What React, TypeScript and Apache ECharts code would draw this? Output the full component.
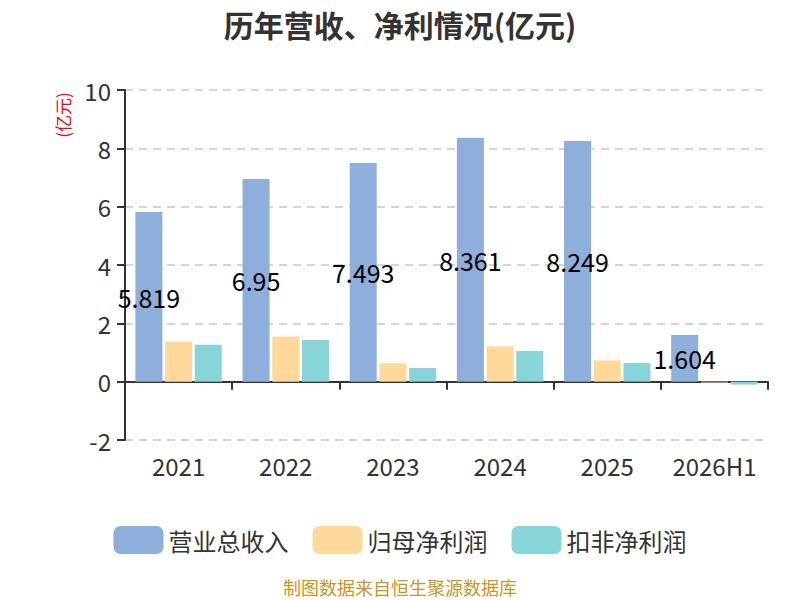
import React, { useEffect, useRef } from "react";
import * as echarts from "echarts";

const categories = ["2021", "2022", "2023", "2024", "2025", "2026H1"];
const revenue = [5.819, 6.95, 7.493, 8.361, 8.249, 1.604];
const netProfit = [1.38, 1.55, 0.63, 1.21, 0.73, -0.03];
const deductedProfit = [1.27, 1.43, 0.47, 1.05, 0.64, -0.1];
const seriesNames = ["营业总收入", "归母净利润", "扣非净利润"];

const FONT = '"Noto Sans CJK SC", "Noto Sans", sans-serif';

export default function App() {
  const ref = useRef<HTMLDivElement>(null);
  useEffect(() => {
    document.body.style.margin = "0";
    if (!ref.current) return;
    const chart = echarts.init(ref.current, null, { renderer: "svg" });
    chart.setOption({
      animation: false,
      textStyle: { fontFamily: FONT },
      title: {
        text: "历年营收、净利情况(亿元)",
        left: "center",
        top: 4,
        textStyle: { fontSize: 30, fontWeight: "bold", color: "#333", fontFamily: FONT },
      },
      graphic: [
        {
          type: "text",
          x: 62,
          y: 115,
          rotation: Math.PI / 2,
          style: {
            text: "(亿元)",
            fill: "#ff0000",
            fontSize: 17,
            fontFamily: FONT,
            align: "center",
            verticalAlign: "middle",
          },
        },
        {
          type: "text",
          x: 400,
          y: 587,
          style: {
            text: "制图数据来自恒生聚源数据库",
            fill: "#c9952b",
            fontSize: 18,
            fontFamily: FONT,
            align: "center",
            verticalAlign: "middle",
          },
        },
      ],
      legend: {
        top: 521,
        left: "center",
        itemWidth: 50,
        itemHeight: 28,
        itemGap: 24,
        icon: "roundRect",
        textStyle: { fontSize: 24, color: "#333", fontFamily: FONT },
        data: seriesNames,
      },
      grid: { left: 125, right: 32, top: 90, bottom: 160 },
      xAxis: {
        type: "category",
        data: categories,
        axisLine: { onZero: true, lineStyle: { color: "#333", width: 2 } },
        axisTick: { show: true, interval: 0, length: 8, lineStyle: { color: "#333", width: 2 } },
        axisLabel: { interval: 0, margin: 13, fontSize: 24, color: "#333", fontFamily: FONT },
      },
      yAxis: {
        type: "value",
        min: -2,
        max: 10,
        interval: 2,
        axisLine: { show: true, lineStyle: { color: "#333", width: 2 } },
        axisTick: { show: true, length: 8, lineStyle: { color: "#333", width: 2 } },
        axisLabel: { fontSize: 24, color: "#333", margin: 14, fontFamily: FONT },
        splitLine: { lineStyle: { type: [8, 6], color: "#c8c8c8", width: 1.5 } },
      },
      series: [
        {
          name: seriesNames[0],
          type: "bar",
          data: revenue,
          barWidth: 27,
          barGap: "10%",
          itemStyle: { color: "#8eaedb" },
          label: {
            show: true,
            position: "inside",
            color: "#000",
            fontSize: 25,
            fontFamily: FONT,
          },
        },
        {
          name: seriesNames[1],
          type: "bar",
          data: netProfit,
          barWidth: 27,
          barGap: "10%",
          itemStyle: { color: "#fed99b" },
        },
        {
          name: seriesNames[2],
          type: "bar",
          data: deductedProfit,
          barWidth: 27,
          barGap: "10%",
          itemStyle: { color: "#87d5d9" },
        },
      ],
    });
    return () => chart.dispose();
  }, []);
  return <div ref={ref} style={{ width: 800, height: 600 }} />;
}
